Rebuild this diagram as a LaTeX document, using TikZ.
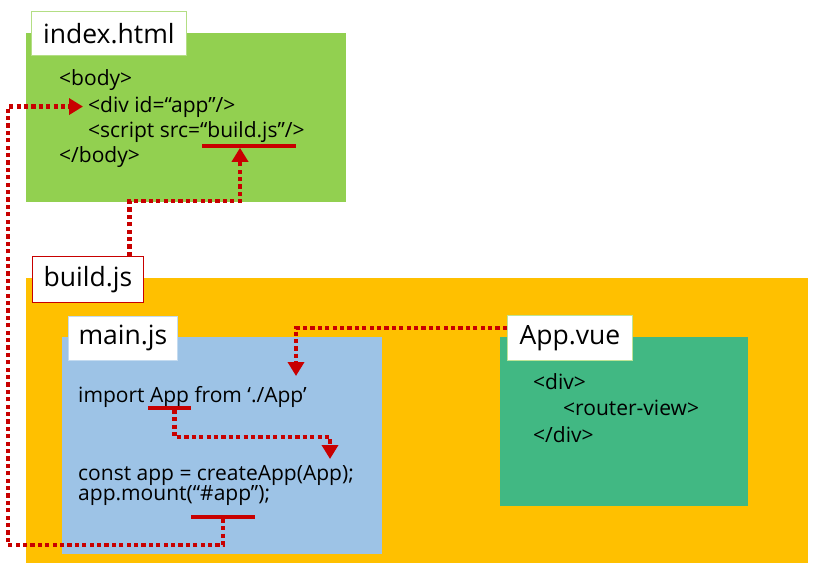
\documentclass[tikz,border=0pt]{standalone}
\usepackage{fontspec}
\setmainfont{Open Sans}
\usepackage{tikz}
\usetikzlibrary{arrows.meta, positioning, calc}
\definecolor{idxgreen}{HTML}{92D050}
\definecolor{buildorange}{HTML}{FFC000}
\definecolor{mainblue}{HTML}{9DC3E6}
\definecolor{vuegreen}{HTML}{41B883}
\definecolor{linkred}{HTML}{C80000}
\tikzstyle{panel} = [rectangle, anchor=north west, inner sep=0pt, draw=none]
\tikzstyle{filetag} = [rectangle, anchor=north west, inner sep=0pt, fill=white,
    draw=black!20, line width=0.8pt, font=\fontsize{26.5}{30}\selectfont]
\tikzstyle{code} = [anchor=base west, inner sep=0pt, font=\fontsize{21}{25}\selectfont]
\tikzstyle{uline} = [rectangle, inner sep=0pt, fill=linkred, minimum height=3.2pt]
\tikzstyle{link} = [draw=linkred, line width=4.8pt, dash pattern=on 4.2pt off 3.2pt,
    ->, >={Triangle[width=16pt,length=14pt]}]

\begin{document}
\begin{tikzpicture}[x=1pt, y=-1pt]
            \useasboundingbox (0,0) rectangle (818,570);
            % Files
            \node[panel, fill=idxgreen, minimum width=320pt, minimum height=169pt]
            (index) at (26,33) {};
            \node[panel, fill=buildorange, minimum width=782pt, minimum height=285pt]
            (build) at (26,278) {};
            \node[panel, fill=mainblue, minimum width=320pt, minimum height=217pt]
            (main) at (62,337) {};
            \node[panel, fill=vuegreen, minimum width=248pt, minimum height=169pt]
            (app) at (500,337) {};
            % File names
            \node[filetag, draw=idxgreen!70!white, minimum width=155pt, minimum height=44pt]
            (indextag) at (31,11) {index.html};
            \node[filetag, draw=linkred, minimum width=111pt, minimum height=46pt]
            (buildtag) at (32,256) {build.js};
            \node[filetag, draw=mainblue!60!white, minimum width=109pt, minimum height=44pt]
            (maintag) at (68,316) {main.js};
            \node[filetag, draw=idxgreen!60!white, minimum width=125pt, minimum height=45pt]
            (apptag) at (507,315) {App.vue};
            % index.html
            \node[code] (body) at (59,85) {<body>};
            \node[code] (divapp) at (88,112) {<div id=“app”/>};
            \node[code] (script) at (88,137) {<script src=“build.js”/>};
            \node[code] (endbody) at (59,162) {</body>};
            % main.js
            \node[code] (import) at (78,402) {import App from ‘./App’};
            \node[code] (create) at (78,480) {const app = createApp(App);};
            \node[code] (mount) at (78,500) {app.mount(“\#app”);};
            % App.vue
            \node[code] (div) at (533,389) {<div>};
            \node[code] (router) at (563,415) {<router-view>};
            \node[code] (enddiv) at (533,442) {</div>};
            % Underlines
            \node[uline, minimum width=94pt] (ubuild) at (249,146) {};
            \node[uline, minimum width=43pt] (uapp) at (169.5,408) {};
            \node[uline, minimum width=64pt] (umount) at (223,517) {};
            % Bends
            \coordinate (buildbend) at (240,201);
            \coordinate (lowleft) at (8,545);
            \coordinate (appbend) at (330,437);
            \coordinate (createin) at (330,459);
            \coordinate (importin) at (296,376);
            % Arrows
            \draw[link] ([xshift=-14pt]buildtag.north east) |- (buildbend)
            -- (ubuild.south -| buildbend);
            \draw[link] (umount.south) |- (lowleft) |- ([xshift=-5pt]divapp.west);
            \draw[link] ([xshift=5pt]uapp.south) |- (appbend) -- (createin);
            \draw[link] ([yshift=10pt]apptag.west) -| (importin);

        \end{tikzpicture}
\end{document}
